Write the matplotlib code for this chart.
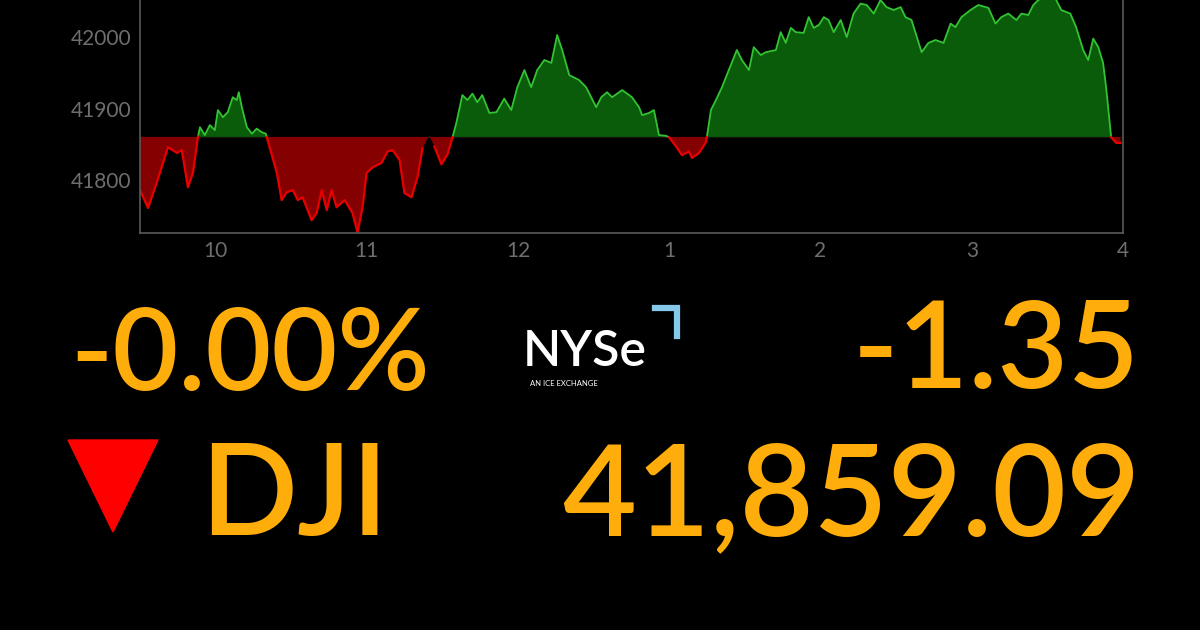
import numpy as np
import matplotlib.pyplot as plt
from matplotlib.lines import Line2D
from matplotlib.patches import Polygon

plt.rcParams['font.family'] = ['Lato', 'DejaVu Sans']

# minutes since 9:30 open, DJI level
minutes = [0, 3.2, 6.7, 11.1, 14.7, 16.6, 19.0, 21.0, 23.0, 23.8, 25.7, 27.7, 29.7, 30.9,
           32.9, 34.8, 36.8, 38.4, 39.2, 40.4, 42.4, 44.4, 46.3, 48.3, 49.9, 50.3, 54.3,
           56.2, 58.2, 60.6, 62.6, 64.5, 68.1, 70.1, 72.1, 74.1, 76.0, 78.0, 81.2, 84.3,
           86.3, 88.3, 89.9, 92.3, 95.8, 98.2, 100.2, 103.0, 104.9, 107.7, 110.1, 112.1,
           114.8, 116.8, 119.6, 122.0, 124.0, 125.5, 127.9, 129.9, 131.9, 133.8, 135.8,
           138.6, 141.4, 144.5, 147.3, 149.7, 152.5, 155.2, 157.6, 160.4, 163.2, 165.5,
           167.5, 170.3, 174.2, 177.0, 181.0, 183.0, 185.3, 187.3, 191.3, 195.2, 198.0,
           199.2, 202.0, 203.9, 205.9, 208.7, 209.9, 212.7, 215.0, 217.8, 219.0, 221.8,
           224.5, 224.9, 226.5, 228.5, 230.9, 233.6, 236.8, 238.8, 241.6, 243.5, 246.3,
           248.3, 252.3, 254.2, 256.2, 258.2, 260.2, 263.3, 265.3, 267.3, 269.3, 271.3,
           273.2, 275.2, 278.0, 280.4, 283.1, 285.9, 288.3, 291.1, 293.8, 296.2, 299.0,
           301.8, 303.7, 306.1, 310.1, 312.8, 315.6, 318.8, 321.6, 323.5, 325.9, 329.5,
           332.6, 336.6, 339.4, 341.7, 344.5, 347.7, 349.7, 352.4, 354.4, 356.4, 359.2,
           363.1, 365.5, 369.1, 371.4, 374.2, 376.2, 378.2, 380.2, 382.1, 383.3, 384.9,
           385.3, 387.3, 389.0]
levels = [41786, 41761, 41797, 41846, 41838, 41842, 41790, 41810, 41861, 41874, 41863, 41877,
          41870, 41898, 41888, 41895, 41916, 41912, 41923, 41902, 41874, 41865, 41872, 41867,
          41865, 41860, 41810, 41772, 41783, 41786, 41772, 41776, 41744, 41754, 41786, 41758,
          41786, 41762, 41772, 41754, 41727, 41762, 41810, 41818, 41824, 41840, 41842, 41828,
          41782, 41776, 41804, 41845, 41862, 41847, 41822, 41836, 41860, 41880, 41919, 41912,
          41921, 41909, 41919, 41894, 41895, 41914, 41898, 41930, 41954, 41930, 41954, 41968,
          41964, 42003, 41982, 41947, 41940, 41930, 41902, 41916, 41923, 41916, 41926, 41916,
          41902, 41891, 41894, 41898, 41863, 41862, 41860, 41847, 41835, 41840, 41831, 41838,
          41853, 41860, 41898, 41912, 41930, 41954, 41982, 41968, 41954, 41986, 41975, 41979,
          41982, 42007, 41992, 42013, 42007, 42006, 42028, 42013, 42017, 42028, 42024, 42007,
          42024, 42000, 42033, 42047, 42045, 42033, 42052, 42042, 42038, 42042, 42028, 42024,
          41979, 41992, 41996, 41992, 42019, 42014, 42028, 42038, 42045, 42041, 42019, 42028,
          42033, 42024, 42033, 42031, 42045, 42052, 42057, 42055, 42038, 42033, 42014, 41982,
          41968, 41998, 41986, 41964, 41930, 41874, 41860, 41852, 41852]
prev_close = 41860.44

y_ticks = [41800, 41900, 42000]
x_ticks = [30, 90, 150, 210, 270, 330, 390]
x_labels = ['10', '11', '12', '1', '2', '3', '4']

pct_text = '-0.00%'
chg_text = '-1.35'
last_text = '41,859.09'
symbol = 'DJI'

ORANGE = '#ffad0a'
GREEN_FILL = '#0a5c0a'
GREEN_LINE = '#33c233'
RED_FILL = '#850000'
RED_LINE = '#e80000'

fig = plt.figure(figsize=(12, 6.3), dpi=100, facecolor='black')
ax = fig.add_axes([140 / 1200, 1 - 233 / 630, (1123 - 140) / 1200, 233 / 630])
ax.set_facecolor('black')

t = np.array(minutes)
v = np.array(levels)
ax.fill_between(t, v, prev_close, where=v >= prev_close, interpolate=True,
                color=GREEN_FILL, lw=0)
ax.fill_between(t, v, prev_close, where=v <= prev_close, interpolate=True,
                color=RED_FILL, lw=0)
up = np.ma.masked_where(v < prev_close - 1, v)
down = np.ma.masked_where(v > prev_close + 1, v)
ax.plot(t, up, color=GREEN_LINE, lw=1.3)
ax.plot(t, down, color=RED_LINE, lw=1.6)
ax.axhline(prev_close, color='#1a1a1a', lw=0.6, zorder=0)

ax.set_xlim(0, 390)
ax.set_ylim(41726, 42052)
ax.set_yticks(y_ticks)
ax.set_xticks(x_ticks)
ax.set_xticklabels(x_labels)
ax.tick_params(length=0, colors='#6e6e6e', labelsize=15, pad=6)
for s in ['left', 'bottom', 'right']:
    ax.spines[s].set_color('#5a5a5a')
    ax.spines[s].set_linewidth(1.2)
ax.spines['top'].set_visible(False)

# quote block
fig.text(70 / 1200, 1 - 390 / 630, pct_text, color=ORANGE, fontsize=82,
         fontweight='semibold', ha='left', va='baseline')
fig.text(1140 / 1200, 1 - 388 / 630, chg_text, color=ORANGE, fontsize=88,
         fontweight='semibold', ha='right', va='baseline')
fig.text(1140 / 1200, 1 - 535 / 630, last_text, color=ORANGE, fontsize=92,
         fontweight='semibold', ha='right', va='baseline')
fig.text(200 / 1200, 1 - 535 / 630, symbol, color=ORANGE, fontsize=92,
         fontweight='semibold', ha='left', va='baseline')

tri = Polygon([(68 / 1200, 1 - 440 / 630), (158 / 1200, 1 - 440 / 630),
               (113 / 1200, 1 - 532 / 630)], closed=True, color='#ff0000',
              transform=fig.transFigure)
fig.patches.append(tri)

# NYSE logo
fig.text(523 / 1200, 1 - 366 / 630, 'NYSe', color='white', fontsize=36,
         fontweight='semibold', ha='left', va='baseline')
fig.text(530 / 1200, 1 - 386 / 630, 'AN ICE EXCHANGE', color='white', fontsize=5.5,
         ha='left', va='baseline')
fig.lines.append(Line2D([655 / 1200, 677 / 1200, 677 / 1200],
                        [1 - 308 / 630, 1 - 308 / 630, 1 - 336 / 630],
                        color='#86c8ea', lw=4.5, solid_joinstyle='miter',
                        transform=fig.transFigure))

fig.savefig('out.png', dpi=100, facecolor='black')
